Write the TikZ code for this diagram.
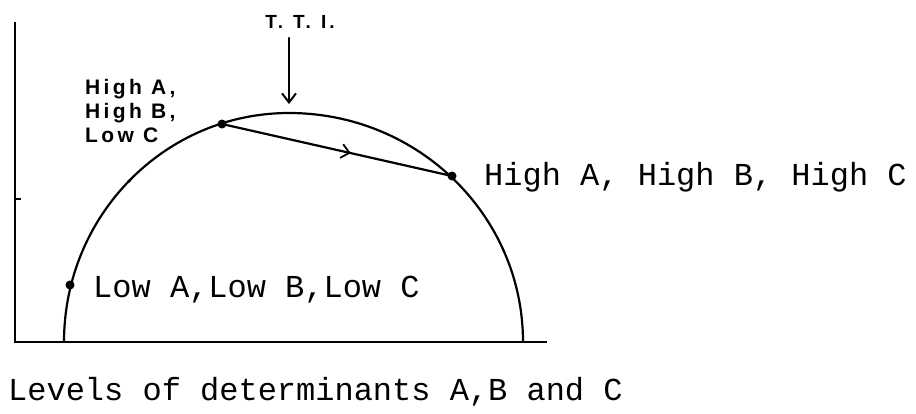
\documentclass[tikz,border=0pt]{standalone}
\usepackage{fontspec}
\newfontfamily\typew{Liberation Mono}
\newfontfamily\hand[LetterSpace=16.0]{Liberation Sans}
\usetikzlibrary{arrows.meta,decorations.markings}
\tikzset{
  axisline/.style={line width=2.8pt, line cap=butt},
  curve/.style={line width=2.2pt, line cap=round, line join=round},
  dotmark/.style={circle, fill=black, inner sep=0pt, minimum size=9pt},
  tinydot/.style={circle, fill=black, inner sep=0pt, minimum size=3.5pt},
  typelabel/.style={font=\typew\fontsize{32}{36}\selectfont, inner sep=0pt, anchor=base west},
  handlabel/.style={font=\hand\bfseries\fontsize{21}{24}\selectfont, inner sep=0pt, anchor=base west},
  chordarrow/.style={postaction=decorate, decoration={markings, mark=at position 0.56 with {\arrow{Straight Barb[length=8pt,width=14pt,line width=1.8pt]}}}}
}
\begin{document}
\begin{tikzpicture}[x=1pt,y=-1pt]
\useasboundingbox (0,0) rectangle (916,413);
% axes
\coordinate (ytop) at (15,22);
\coordinate (orig) at (15,342);
\coordinate (xend) at (547,342);
\coordinate (tickL) at (15,199);
\coordinate (tickR) at (21,199);
\draw[axisline] (ytop) -- (orig) -- (xend);
\draw[line width=1.8pt] (tickL) -- (tickR);
% arch: two quarter ellipses
\coordinate (footL) at (64,342);
\draw[curve] (footL) arc[start angle=180, end angle=270, x radius=225, y radius=229]
  arc[start angle=270, end angle=360, x radius=234, y radius=229];
% dots
\node[dotmark] (low) at (70,285) {};
\node[tinydot] (mid) at (129,181) {};
\node[dotmark] (hab) at (222,124) {};
\node[dotmark] (hc) at (452,176) {};
% chord
\draw[curve, chordarrow] (hab.center) -- (hc.center);
% T.T.I.
\node[font=\hand\bfseries\fontsize{19}{22}\selectfont, inner sep=0pt] (tti) at (300,22) {T.\hspace{10pt}T.\hspace{10pt}I.};
\coordinate (ttitop) at (289,38);
\coordinate (ttibot) at (289,104);
\draw[curve, -{Straight Barb[length=9pt,width=14pt,line width=2pt]}] (ttitop) -- (ttibot);
% labels
\node[typelabel] (lhc) at (484,185) {High A, High B, High C};
\node[typelabel] (lll) at (93,297) {Low A,Low B,Low C};
\node[typelabel] (lev) at (8,400) {Levels of determinants A,B and C};
\node[handlabel] (h1) at (85,94) {High A,};
\node[handlabel] (h2) at (85,118) {High B,};
\node[handlabel] (h3) at (85,142) {Low C};
\end{tikzpicture}
\end{document}
